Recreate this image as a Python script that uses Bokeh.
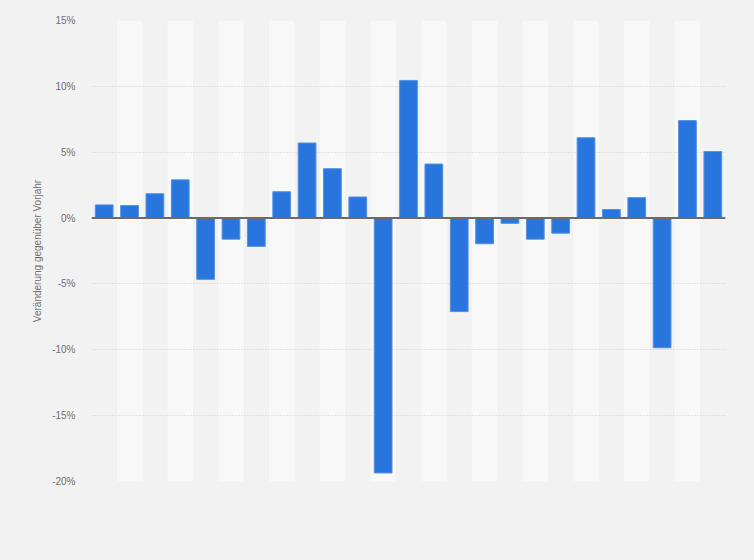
import re
from bokeh.plotting import figure
from bokeh.models import Range1d, FixedTicker, PrintfTickFormatter, Span, ColumnDataSource
from bokeh.embed import file_html
from bokeh.resources import INLINE

# Data (percent change vs. previous year)
periods = list(range(1, 26))
changes = [1.0, 0.95, 1.85, 2.9, -4.65, -1.6, -2.15, 2.0, 5.7, 3.75, 1.6, -19.35,
           10.45, 4.1, -7.1, -1.95, -0.4, -1.6, -1.15, 6.1, 0.65, 1.55, -9.85, 7.4, 5.05]
y_ticks = [-20, -15, -10, -5, 0, 5, 10, 15]

BG = "#f2f2f2"
BAND = "#f8f8f8"

xs = list(range(len(periods)))

p = figure(width=754, height=560, output_backend="svg", toolbar_location=None,
           x_range=Range1d(-0.5, len(periods) - 0.5), y_range=Range1d(y_ticks[0], y_ticks[-1]),
           min_border_left=91, min_border_right=29, min_border_top=20, min_border_bottom=79)
p.background_fill_color = BG
p.border_fill_color = BG
p.outline_line_color = None

# alternating column bands
band_src = ColumnDataSource(dict(x=[x for x in xs if x % 2 == 1]))
p.vbar(x="x", width=1, top=y_ticks[-1], bottom=y_ticks[0], source=band_src,
       fill_color=BAND, line_color=None, level="image")

# bars
src = ColumnDataSource(dict(x=xs, v=changes))
p.vbar(x="x", top="v", bottom=0, width=0.7, source=src,
       fill_color="#2876dd", line_color="#5590e3", line_width=1)

# zero line
p.add_layout(Span(location=0, dimension="width", line_color="#6b6b6b", line_width=2))

# axes
p.xaxis.visible = False
p.xgrid.visible = False
ya = p.yaxis[0]
ya.ticker = FixedTicker(ticks=y_ticks)
ya.formatter = PrintfTickFormatter(format="%d%%")
ya.axis_line_color = None
ya.major_tick_line_color = None
ya.minor_tick_line_color = None
ya.major_tick_out = 0
ya.major_tick_in = 0
ya.major_label_standoff = 16
ya.major_label_text_font = "Liberation Sans"
ya.major_label_text_font_size = "10px"
ya.major_label_text_color = "#707070"
ya.axis_label = "Veränderung gegenüber Vorjahr"
ya.axis_label_text_font = "Liberation Sans"
ya.axis_label_text_font_size = "10px"
ya.axis_label_text_font_style = "normal"
ya.axis_label_text_color = "#707070"
ya.axis_label_standoff = 6

p.ygrid.ticker = FixedTicker(ticks=y_ticks)
p.ygrid.grid_line_color = "#cfcfcf"
p.ygrid.grid_line_dash = "1 2"
p.ygrid.grid_line_width = 1

html = file_html(p, INLINE)
style = "<style>html,body{margin:0 !important;padding:0 !important;background:#f2f2f2;overflow:hidden;}</style>"
html = re.sub(r"</head>", style + "</head>", html, count=1)
open("out.html", "w").write(html)
